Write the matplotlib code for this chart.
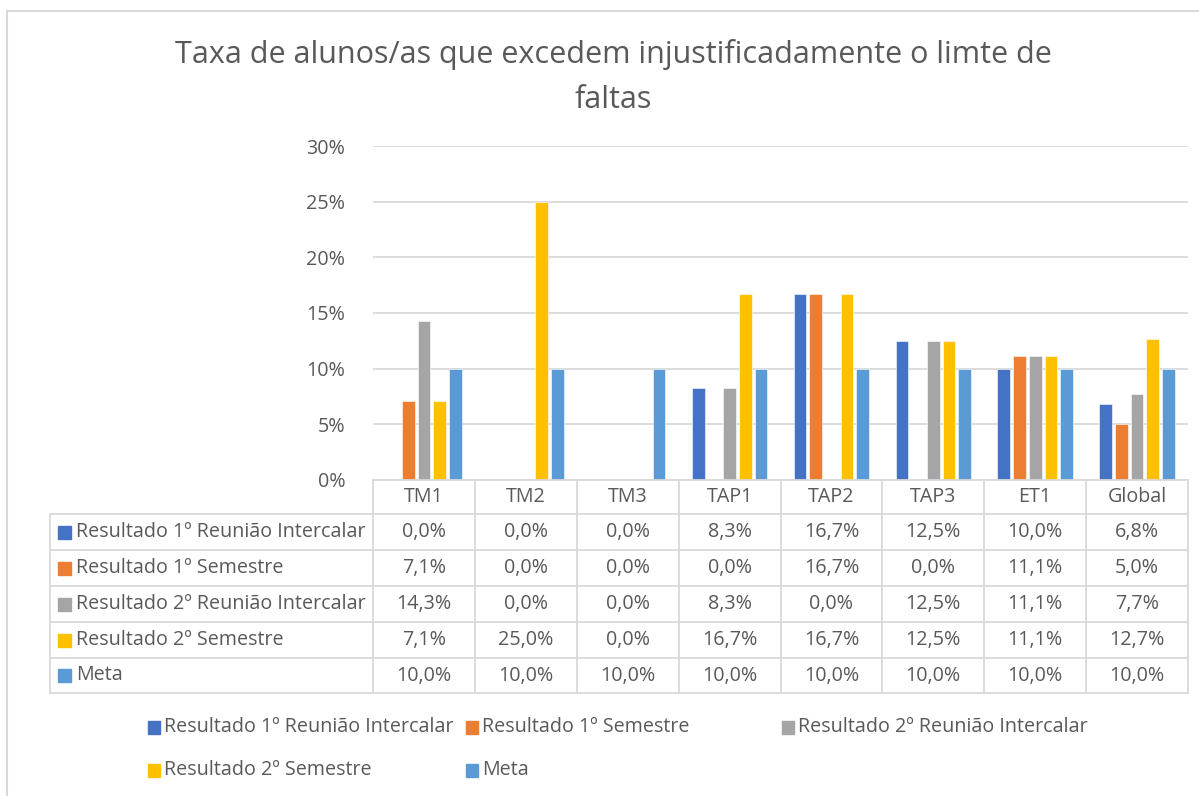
import matplotlib.pyplot as plt
from matplotlib.patches import Rectangle
import numpy as np

# data
categories = ["TM1", "TM2", "TM3", "TAP1", "TAP2", "TAP3", "ET1", "Global"]
series_names = [
    "Resultado 1º Reunião Intercalar",
    "Resultado 1º Semestre",
    "Resultado 2º Reunião Intercalar",
    "Resultado 2º Semestre",
    "Meta",
]
reuniao1 = [0.0, 0.0, 0.0, 8.3, 16.7, 12.5, 10.0, 6.8]
semestre1 = [7.1, 0.0, 0.0, 0.0, 16.7, 0.0, 11.1, 5.0]
reuniao2 = [14.3, 0.0, 0.0, 8.3, 0.0, 12.5, 11.1, 7.7]
semestre2 = [7.1, 25.0, 0.0, 16.7, 16.7, 12.5, 11.1, 12.7]
meta = [10.0, 10.0, 10.0, 10.0, 10.0, 10.0, 10.0, 10.0]
series_values = [reuniao1, semestre1, reuniao2, semestre2, meta]
colors = ["#4472C4", "#ED7D31", "#A5A5A5", "#FFC000", "#5B9BD5"]
yticks = [0, 5, 10, 15, 20, 25, 30]

title = "Taxa de alunos/as que excedem injustificadamente o limte de\nfaltas"

W, H = 1199, 796
TXT = "#595959"
GRID = "#D9D9D9"
FONT = "Open Sans"
FS = 14.2


def fx(px):
    return px / W


def fy(py):
    return 1 - py / H


fig = plt.figure(figsize=(W / 100, H / 100), dpi=100)
plt.rcParams["font.family"] = [FONT, "DejaVu Sans"]

# chart frame (left and top edges visible)
fig.add_artist(Rectangle((fx(7), fy(1000)), 2, fy(11) - fy(1000), transform=fig.transFigure,
                         fill=False, edgecolor=GRID, lw=1.5))

fig.text(fx(613), fy(77), title, ha="center", va="center", fontsize=22, color=TXT,
         linespacing=1.65)

# bar plot area
left, right, top, bottom = 373, 1188, 146, 480
ax = fig.add_axes([fx(left), fy(bottom), fx(right - left), fy(top) - fy(bottom)])
x = np.arange(len(categories))
pitch = 0.154
bw = 0.124
for i, (vals, c) in enumerate(zip(series_values, colors)):
    ax.bar(x + (i - 2) * pitch, np.array(vals) / 100, width=bw, color=c,
           edgecolor="white", linewidth=0.4, zorder=3)
ax.set_xlim(-0.5, len(categories) - 0.5)
ax.set_ylim(0, 0.30)
ax.set_yticks([t / 100 for t in yticks])
ax.set_yticklabels([f"{t}%" for t in yticks], fontsize=FS, color=TXT)
ax.tick_params(axis="y", length=0, pad=20)
ax.set_xticks([])
ax.grid(axis="y", color=GRID, lw=1.3, zorder=0)
for s in ax.spines.values():
    s.set_visible(False)

# data table
col_w = (right - left) / len(categories)
row_y = [480, 514, 550, 586, 622, 658, 693]
lbl_left = 50
lw_t = 1.3


def hline(y, x0, x1):
    fig.add_artist(plt.Line2D([fx(x0), fx(x1)], [fy(y), fy(y)], color=GRID, lw=lw_t))


def vline(xp, y0, y1):
    fig.add_artist(plt.Line2D([fx(xp), fx(xp)], [fy(y0), fy(y1)], color=GRID, lw=lw_t))


hline(row_y[0], left, right)
for y in row_y[1:]:
    hline(y, lbl_left, right)
vline(lbl_left, row_y[1], row_y[-1])
for j in range(len(categories) + 1):
    vline(left + j * col_w, row_y[0], row_y[-1])

for j, cat in enumerate(categories):
    fig.text(fx(left + (j + 0.5) * col_w), fy((row_y[0] + row_y[1]) / 2), cat,
             ha="center", va="center", fontsize=FS, color=TXT)

for i, (name, vals, c) in enumerate(zip(series_names, series_values, colors)):
    yc = (row_y[i + 1] + row_y[i + 2]) / 2
    fig.add_artist(Rectangle((fx(58), fy(yc + 6.5)), fx(13), fy(0) - fy(13),
                             transform=fig.transFigure, color=c))
    fig.text(fx(76), fy(yc), name, ha="left", va="center", fontsize=FS, color=TXT)
    for j, v in enumerate(vals):
        fig.text(fx(left + (j + 0.5) * col_w), fy(yc), f"{v:.1f}%".replace(".", ","),
                 ha="center", va="center", fontsize=FS, color=TXT)

# legend
leg_pos = [(148, 727), (466, 727), (782, 727), (148, 770), (466, 770)]
for (lx, ly), name, c in zip(leg_pos, series_names, colors):
    fig.add_artist(Rectangle((fx(lx), fy(ly + 6.5)), fx(12), fy(0) - fy(13),
                             transform=fig.transFigure, color=c))
    fig.text(fx(lx + 16), fy(ly), name, ha="left", va="center", fontsize=FS, color=TXT)

fig.savefig("out.png", dpi=100, facecolor="white")
